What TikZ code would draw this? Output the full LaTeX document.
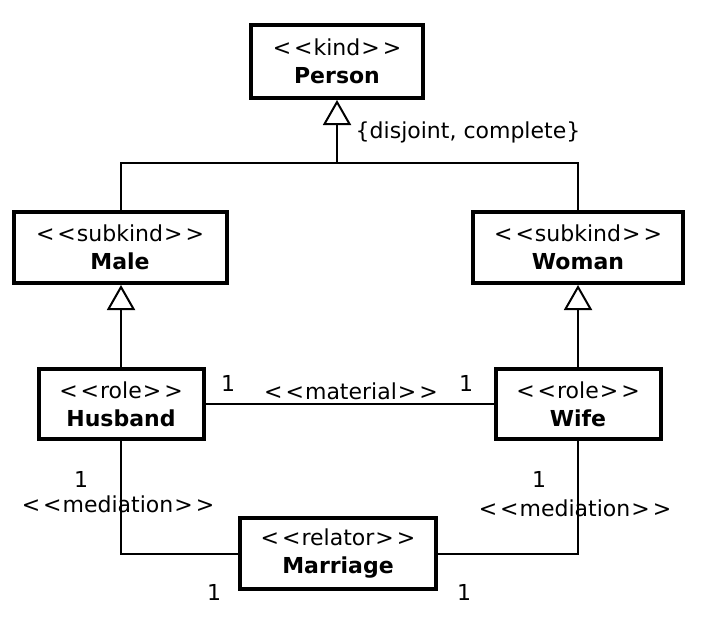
\documentclass[tikz,border=0pt]{standalone}
\usepackage{fontspec}
\setmainfont{DejaVu Sans}
\usetikzlibrary{arrows.meta}
\newcommand\stero[1]{<\kern1.5pt<\kern0.5pt#1\kern0.5pt>\kern1.5pt>}
\begin{document}
\begin{tikzpicture}[x=0.5pt,y=-0.5pt,
  font=\fontsize{11}{14}\selectfont,
  cls/.style={draw, line width=2pt, rectangle, inner sep=0pt, align=center, fill=white},
  conn/.style={line width=1pt},
  gen/.style={conn, -{Triangle[open, length=12.5pt, width=14pt]}},
  lbl/.style={inner sep=0pt}]
\useasboundingbox (0,0) rectangle (704,626);
\fill[white] (0,0) rectangle (704,626);

\node[cls, minimum width=86pt, minimum height=36.5pt] (Person) at (337,61.5) {\stero{kind}\\\textbf{Person}};
\node[cls, minimum width=106.5pt, minimum height=35.5pt] (Male) at (120,247.5) {\stero{subkind}\\\textbf{Male}};
\node[cls, minimum width=105pt, minimum height=35.5pt] (Woman) at (578,247.5) {\stero{subkind}\\\textbf{Woman}};
\node[cls, minimum width=82.5pt, minimum height=35pt] (Husband) at (121,404) {\stero{role}\\\textbf{Husband}};
\node[cls, minimum width=82.5pt, minimum height=35pt] (Wife) at (578,404) {\stero{role}\\\textbf{Wife}};
\node[cls, minimum width=98pt, minimum height=35.5pt] (Marriage) at (338,553.5) {\stero{relator}\\\textbf{Marriage}};

% generalizations
\coordinate (j) at (337,163);
\draw[gen] (j) -- (Person.south);
\draw[conn] (Male.north -| Husband.north) |- (j) -| (Woman.north -| Wife.north);
\draw[gen] (Husband.north) -- (Husband.north |- Male.south);
\draw[gen] (Wife.north) -- (Wife.north |- Woman.south);
\node[lbl] (gs) at (468,132) {\{disjoint, complete\}};

% material
\draw[conn] (Husband.east) -- (Wife.west);
\node[lbl] (m1) at (228,383) {1};
\node[lbl] (mat) at (351,391) {\stero{material}};
\node[lbl] (m2) at (466,383) {1};

% mediations
\draw[conn] (Husband.south) |- (Marriage.west);
\draw[conn] (Wife.south) |- (Marriage.east);
\node[lbl] (h1) at (81,479) {1};
\node[lbl] (hmed) at (118,504) {\stero{mediation}};
\node[lbl] (w1) at (539,479) {1};
\node[lbl] (wmed) at (575,508) {\stero{mediation}};
\node[lbl] (r1) at (214,592) {1};
\node[lbl] (r2) at (464,592) {1};
\end{tikzpicture}
\end{document}
